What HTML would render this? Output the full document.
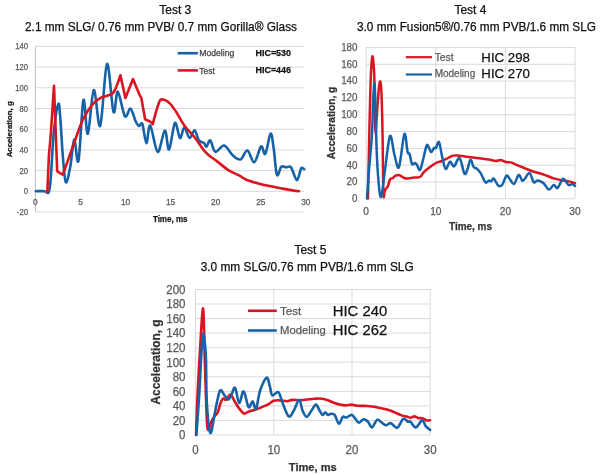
<!DOCTYPE html>
<html><head><meta charset="utf-8"><title>Tests 3-5</title>
<style>
html,body{margin:0;padding:0;background:#fff;}
body{width:600px;height:475px;overflow:hidden;}
svg{display:block;font-family:"Liberation Sans", sans-serif;filter:blur(0.35px);}
</style></head>
<body>
<svg width="600" height="475" viewBox="0 0 600 475">
<rect width="600" height="475" fill="#fff"/>
<text x="175.3" y="14.1" font-size="12" fill="#111" font-weight="normal" text-anchor="middle" stroke="#111" stroke-width="0.25" >Test 3</text>
<text x="161" y="31.0" font-size="12" fill="#111" font-weight="normal" text-anchor="middle" stroke="#111" stroke-width="0.25" textLength="272" lengthAdjust="spacingAndGlyphs">2.1 mm SLG/ 0.76 mm PVB/ 0.7 mm Gorilla® Glass</text>
<line x1="35.4" y1="212.0" x2="304.5" y2="212.0" stroke="#d9d9d9" stroke-width="1"/>
<text x="28" y="215.0" font-size="8.5" fill="#595959" font-weight="normal" text-anchor="end" stroke="#595959" stroke-width="0.25" textLength="11.20" lengthAdjust="spacingAndGlyphs">-20</text>
<line x1="35.4" y1="191.3" x2="304.5" y2="191.3" stroke="#d9d9d9" stroke-width="1"/>
<text x="28" y="194.3" font-size="8.5" fill="#595959" font-weight="normal" text-anchor="end" stroke="#595959" stroke-width="0.25" textLength="4.25" lengthAdjust="spacingAndGlyphs">0</text>
<line x1="35.4" y1="170.6" x2="304.5" y2="170.6" stroke="#d9d9d9" stroke-width="1"/>
<text x="28" y="173.6" font-size="8.5" fill="#595959" font-weight="normal" text-anchor="end" stroke="#595959" stroke-width="0.25" textLength="8.50" lengthAdjust="spacingAndGlyphs">20</text>
<line x1="35.4" y1="149.9" x2="304.5" y2="149.9" stroke="#d9d9d9" stroke-width="1"/>
<text x="28" y="152.9" font-size="8.5" fill="#595959" font-weight="normal" text-anchor="end" stroke="#595959" stroke-width="0.25" textLength="8.50" lengthAdjust="spacingAndGlyphs">40</text>
<line x1="35.4" y1="129.2" x2="304.5" y2="129.2" stroke="#d9d9d9" stroke-width="1"/>
<text x="28" y="132.2" font-size="8.5" fill="#595959" font-weight="normal" text-anchor="end" stroke="#595959" stroke-width="0.25" textLength="8.50" lengthAdjust="spacingAndGlyphs">60</text>
<line x1="35.4" y1="108.5" x2="304.5" y2="108.5" stroke="#d9d9d9" stroke-width="1"/>
<text x="28" y="111.5" font-size="8.5" fill="#595959" font-weight="normal" text-anchor="end" stroke="#595959" stroke-width="0.25" textLength="8.50" lengthAdjust="spacingAndGlyphs">80</text>
<line x1="35.4" y1="87.8" x2="304.5" y2="87.8" stroke="#d9d9d9" stroke-width="1"/>
<text x="28" y="90.8" font-size="8.5" fill="#595959" font-weight="normal" text-anchor="end" stroke="#595959" stroke-width="0.25" textLength="12.75" lengthAdjust="spacingAndGlyphs">100</text>
<line x1="35.4" y1="67.1" x2="304.5" y2="67.1" stroke="#d9d9d9" stroke-width="1"/>
<text x="28" y="70.1" font-size="8.5" fill="#595959" font-weight="normal" text-anchor="end" stroke="#595959" stroke-width="0.25" textLength="12.75" lengthAdjust="spacingAndGlyphs">120</text>
<line x1="35.4" y1="46.4" x2="304.5" y2="46.4" stroke="#d9d9d9" stroke-width="1"/>
<text x="28" y="49.4" font-size="8.5" fill="#595959" font-weight="normal" text-anchor="end" stroke="#595959" stroke-width="0.25" textLength="12.75" lengthAdjust="spacingAndGlyphs">140</text>
<line x1="35.4" y1="46.4" x2="35.4" y2="212" stroke="#bfbfbf" stroke-width="1"/>
<text x="35.4" y="205.3" font-size="8.3" fill="#595959" font-weight="normal" text-anchor="middle" stroke="#595959" stroke-width="0.25" >0</text>
<text x="80.5" y="205.3" font-size="8.3" fill="#595959" font-weight="normal" text-anchor="middle" stroke="#595959" stroke-width="0.25" >5</text>
<text x="125.5" y="205.3" font-size="8.3" fill="#595959" font-weight="normal" text-anchor="middle" stroke="#595959" stroke-width="0.25" >10</text>
<text x="170.6" y="205.3" font-size="8.3" fill="#595959" font-weight="normal" text-anchor="middle" stroke="#595959" stroke-width="0.25" >15</text>
<text x="215.7" y="205.3" font-size="8.3" fill="#595959" font-weight="normal" text-anchor="middle" stroke="#595959" stroke-width="0.25" >20</text>
<text x="260.8" y="205.3" font-size="8.3" fill="#595959" font-weight="normal" text-anchor="middle" stroke="#595959" stroke-width="0.25" >25</text>
<text x="305.8" y="205.3" font-size="8.3" fill="#595959" font-weight="normal" text-anchor="middle" stroke="#595959" stroke-width="0.25" >30</text>
<text x="170.2" y="222.2" font-size="8.5" fill="#1a1a1a" font-weight="bold" text-anchor="middle" stroke="#1a1a1a" stroke-width="0.25" textLength="34.6" lengthAdjust="spacingAndGlyphs">Time, ms</text>
<text x="0" y="0" font-size="8" fill="#1a1a1a" font-weight="bold" text-anchor="middle" stroke="#1a1a1a" stroke-width="0.25" transform="translate(12.4,129.3) rotate(-90)" textLength="56" lengthAdjust="spacingAndGlyphs">Acceleration, g</text>
<line x1="177.7" y1="53.2" x2="197.9" y2="53.2" stroke="#1562a8" stroke-width="2.6"/>
<line x1="177.7" y1="70.4" x2="197.9" y2="70.4" stroke="#dc1420" stroke-width="2.6"/>
<text x="199.3" y="56.3" font-size="8.7" fill="#404040" font-weight="normal" text-anchor="start" stroke="#404040" stroke-width="0.25" textLength="35" lengthAdjust="spacingAndGlyphs">Modeling</text>
<text x="199.3" y="73.6" font-size="8.7" fill="#404040" font-weight="normal" text-anchor="start" stroke="#404040" stroke-width="0.25" textLength="15.5" lengthAdjust="spacingAndGlyphs">Test</text>
<text x="255.6" y="56.2" font-size="9.4" fill="#111" font-weight="bold" text-anchor="start" stroke="#111" stroke-width="0.25" textLength="35.3" lengthAdjust="spacingAndGlyphs">HIC=530</text>
<text x="255.6" y="72.7" font-size="9.4" fill="#111" font-weight="bold" text-anchor="start" stroke="#111" stroke-width="0.25" textLength="35.3" lengthAdjust="spacingAndGlyphs">HIC=446</text>
<path d="M35.8,191.2 C37.2,191.2 42.6,191.0 44.4,191.2 C46.2,191.4 45.8,192.2 46.5,192.4 C47.2,192.6 48.1,193.8 48.7,192.2 C49.3,190.6 49.9,186.7 50.3,183.0 C50.7,179.3 50.7,178.8 51.3,170.0 C51.9,161.2 52.8,141.5 54.0,130.5 C55.2,119.5 57.2,106.1 58.3,104.0 C59.3,101.9 59.5,109.3 60.3,117.9 C61.0,126.5 61.9,145.1 62.8,155.8 C63.7,166.5 64.5,180.6 65.8,182.3 C67.1,184.0 69.0,173.1 70.4,165.9 C71.8,158.8 72.9,140.2 74.2,139.4 C75.5,138.6 77.0,167.4 78.5,160.8 C80.0,154.2 81.9,104.6 83.4,100.1 C85.0,95.6 86.1,135.5 87.8,133.8 C89.5,132.2 91.7,91.5 93.8,90.2 C95.9,88.9 98.0,130.2 100.2,125.8 C102.4,121.4 104.8,66.2 107.0,63.9 C109.2,61.6 111.7,107.3 113.5,111.9 C115.3,116.5 115.9,91.0 117.8,91.7 C119.7,92.4 122.8,113.4 124.9,116.2 C127.0,119.0 128.7,107.8 130.5,108.6 C132.3,109.4 134.1,118.1 135.5,121.0 C136.9,123.9 137.8,125.5 139.0,126.0 C140.2,126.5 141.2,121.1 142.4,124.0 C143.6,126.9 145.1,142.9 146.4,143.2 C147.7,143.4 148.3,124.0 150.2,125.5 C152.1,127.0 155.3,151.2 157.7,152.0 C160.1,152.8 162.9,130.9 164.8,130.5 C166.7,130.1 167.4,150.8 169.1,149.5 C170.8,148.2 173.1,124.9 174.9,123.0 C176.7,121.1 178.4,137.3 180.0,138.1 C181.6,138.8 182.7,127.5 184.3,127.5 C185.9,127.5 187.9,137.5 189.6,138.0 C191.3,138.5 193.0,129.9 194.6,130.3 C196.2,130.7 197.3,138.3 198.9,140.4 C200.5,142.5 202.7,141.9 204.0,143.0 C205.3,144.1 205.4,147.1 206.5,146.7 C207.6,146.3 208.8,139.6 210.3,140.4 C211.8,141.2 213.0,151.0 215.3,151.8 C217.6,152.7 221.2,144.9 224.2,145.5 C227.1,146.1 230.3,153.3 233.0,155.6 C235.7,157.9 238.2,160.2 240.6,159.4 C243.0,158.6 245.1,150.1 247.4,150.6 C249.7,151.1 252.0,162.9 254.3,162.2 C256.6,161.5 259.3,147.8 261.1,146.4 C262.9,145.0 263.7,155.9 265.3,153.8 C266.9,151.7 269.2,134.6 270.6,133.7 C272.0,132.8 272.6,141.7 273.7,148.5 C274.8,155.3 275.6,171.8 276.9,174.8 C278.2,177.9 279.8,168.1 281.3,166.8 C282.8,165.6 284.4,167.2 286.0,167.3 C287.6,167.4 289.2,165.2 291.0,167.3 C292.8,169.4 295.2,179.9 296.9,180.1 C298.6,180.3 299.9,170.3 301.1,168.5 C302.3,166.7 303.8,169.1 304.3,169.2" fill="none" stroke="#1562a8" stroke-width="2.6" stroke-linejoin="round" stroke-linecap="round"/>
<path d="M47.3,192.0 C47.3,192.0 48.9,155.8 48.9,155.8 C48.9,155.8 50.7,135.6 50.7,135.6 C50.7,135.6 54.0,85.7 54.0,85.7 C54.0,85.7 57.2,171.0 57.2,171.0 C57.2,171.0 58.1,171.9 59.0,172.5 C59.9,173.1 62.8,174.7 62.8,174.7 C62.8,174.7 65.7,166.7 67.8,160.8 C69.9,154.9 72.9,146.3 75.4,139.4 C77.9,132.5 80.1,125.1 83.0,119.2 C85.9,113.3 89.7,107.8 92.6,104.3 C95.5,100.8 97.7,99.5 100.2,98.0 C102.7,96.5 105.4,96.5 107.7,95.5 C110.0,94.5 111.9,95.1 114.0,91.7 C116.1,88.3 120.4,75.3 120.4,75.3 C120.4,75.3 125.4,98.0 125.4,98.0 C125.4,98.0 133.0,79.0 133.0,79.0 C133.0,79.0 137.9,91.1 139.3,94.2 C140.7,97.3 141.3,97.7 141.3,97.7 C141.3,97.7 145.1,119.2 145.1,119.2 C145.1,119.2 148.9,120.9 150.2,121.7 C151.5,122.5 152.7,124.2 152.7,124.2 C152.7,124.2 155.2,114.3 156.5,110.3 C157.8,106.3 158.8,101.9 160.3,100.2 C161.8,98.5 163.6,99.6 165.3,100.2 C167.0,100.8 168.5,101.9 170.4,104.0 C172.3,106.1 174.4,109.2 176.7,112.8 C179.0,116.4 181.2,121.3 184.3,125.5 C187.4,129.7 191.6,133.6 195.1,138.0 C198.6,142.4 201.4,147.8 205.2,151.8 C209.0,155.8 213.8,158.8 217.8,161.9 C221.8,165.1 225.5,168.4 229.2,170.7 C232.9,173.0 237.2,174.4 240.0,175.9 C242.8,177.4 242.8,178.3 246.3,179.7 C249.8,181.1 255.1,182.8 261.1,184.3 C267.1,185.8 275.9,187.4 282.2,188.6 C288.5,189.8 296.2,190.9 299.0,191.3" fill="none" stroke="#dc1420" stroke-width="2.6" stroke-linejoin="round" stroke-linecap="round"/>
<text x="470.4" y="14.2" font-size="12" fill="#111" font-weight="normal" text-anchor="middle" stroke="#111" stroke-width="0.25" >Test 4</text>
<text x="476.5" y="31.2" font-size="12" fill="#111" font-weight="normal" text-anchor="middle" stroke="#111" stroke-width="0.25" textLength="239" lengthAdjust="spacingAndGlyphs">3.0 mm Fusion5®/0.76 mm PVB/1.6 mm SLG</text>
<line x1="366.2" y1="198.8" x2="575" y2="198.8" stroke="#d9d9d9" stroke-width="1"/>
<text x="357.5" y="202.1" font-size="10.6" fill="#595959" font-weight="normal" text-anchor="end" stroke="#595959" stroke-width="0.25" textLength="5.45" lengthAdjust="spacingAndGlyphs">0</text>
<line x1="366.2" y1="182.0" x2="575" y2="182.0" stroke="#d9d9d9" stroke-width="1"/>
<text x="357.5" y="185.3" font-size="10.6" fill="#595959" font-weight="normal" text-anchor="end" stroke="#595959" stroke-width="0.25" textLength="10.90" lengthAdjust="spacingAndGlyphs">20</text>
<line x1="366.2" y1="165.2" x2="575" y2="165.2" stroke="#d9d9d9" stroke-width="1"/>
<text x="357.5" y="168.5" font-size="10.6" fill="#595959" font-weight="normal" text-anchor="end" stroke="#595959" stroke-width="0.25" textLength="10.90" lengthAdjust="spacingAndGlyphs">40</text>
<line x1="366.2" y1="148.4" x2="575" y2="148.4" stroke="#d9d9d9" stroke-width="1"/>
<text x="357.5" y="151.7" font-size="10.6" fill="#595959" font-weight="normal" text-anchor="end" stroke="#595959" stroke-width="0.25" textLength="10.90" lengthAdjust="spacingAndGlyphs">60</text>
<line x1="366.2" y1="131.6" x2="575" y2="131.6" stroke="#d9d9d9" stroke-width="1"/>
<text x="357.5" y="134.9" font-size="10.6" fill="#595959" font-weight="normal" text-anchor="end" stroke="#595959" stroke-width="0.25" textLength="10.90" lengthAdjust="spacingAndGlyphs">80</text>
<line x1="366.2" y1="114.8" x2="575" y2="114.8" stroke="#d9d9d9" stroke-width="1"/>
<text x="357.5" y="118.1" font-size="10.6" fill="#595959" font-weight="normal" text-anchor="end" stroke="#595959" stroke-width="0.25" textLength="16.35" lengthAdjust="spacingAndGlyphs">100</text>
<line x1="366.2" y1="97.9" x2="575" y2="97.9" stroke="#d9d9d9" stroke-width="1"/>
<text x="357.5" y="101.2" font-size="10.6" fill="#595959" font-weight="normal" text-anchor="end" stroke="#595959" stroke-width="0.25" textLength="16.35" lengthAdjust="spacingAndGlyphs">120</text>
<line x1="366.2" y1="81.1" x2="575" y2="81.1" stroke="#d9d9d9" stroke-width="1"/>
<text x="357.5" y="84.4" font-size="10.6" fill="#595959" font-weight="normal" text-anchor="end" stroke="#595959" stroke-width="0.25" textLength="16.35" lengthAdjust="spacingAndGlyphs">140</text>
<line x1="366.2" y1="64.3" x2="575" y2="64.3" stroke="#d9d9d9" stroke-width="1"/>
<text x="357.5" y="67.6" font-size="10.6" fill="#595959" font-weight="normal" text-anchor="end" stroke="#595959" stroke-width="0.25" textLength="16.35" lengthAdjust="spacingAndGlyphs">160</text>
<line x1="366.2" y1="47.5" x2="575" y2="47.5" stroke="#d9d9d9" stroke-width="1"/>
<text x="357.5" y="50.8" font-size="10.6" fill="#595959" font-weight="normal" text-anchor="end" stroke="#595959" stroke-width="0.25" textLength="16.35" lengthAdjust="spacingAndGlyphs">180</text>
<line x1="366.2" y1="47.5" x2="366.2" y2="198.8" stroke="#d9d9d9" stroke-width="1"/>
<text x="366.2" y="215" font-size="10.2" fill="#595959" font-weight="normal" text-anchor="middle" stroke="#595959" stroke-width="0.25" >0</text>
<line x1="435.8" y1="47.5" x2="435.8" y2="198.8" stroke="#d9d9d9" stroke-width="1"/>
<text x="435.8" y="215" font-size="10.2" fill="#595959" font-weight="normal" text-anchor="middle" stroke="#595959" stroke-width="0.25" >10</text>
<line x1="505.4" y1="47.5" x2="505.4" y2="198.8" stroke="#d9d9d9" stroke-width="1"/>
<text x="505.4" y="215" font-size="10.2" fill="#595959" font-weight="normal" text-anchor="middle" stroke="#595959" stroke-width="0.25" >20</text>
<line x1="575.0" y1="47.5" x2="575.0" y2="198.8" stroke="#d9d9d9" stroke-width="1"/>
<text x="575.0" y="215" font-size="10.2" fill="#595959" font-weight="normal" text-anchor="middle" stroke="#595959" stroke-width="0.25" >30</text>
<text x="470.5" y="230.4" font-size="10" fill="#333" font-weight="bold" text-anchor="middle" stroke="#333" stroke-width="0.25" textLength="43" lengthAdjust="spacingAndGlyphs">Time, ms</text>
<text x="0" y="0" font-size="10.1" fill="#333" font-weight="bold" text-anchor="middle" stroke="#333" stroke-width="0.25" transform="translate(334.8,123) rotate(-90)" textLength="72.5" lengthAdjust="spacingAndGlyphs">Acceleration, g</text>
<line x1="405.8" y1="57.2" x2="432" y2="57.2" stroke="#dc1420" stroke-width="2.2"/>
<line x1="405.8" y1="74.5" x2="432" y2="74.5" stroke="#1562a8" stroke-width="2.2"/>
<text x="434.7" y="60.9" font-size="10.4" fill="#595959" font-weight="normal" text-anchor="start" stroke="#595959" stroke-width="0.25" textLength="19" lengthAdjust="spacingAndGlyphs">Test</text>
<text x="434.7" y="76.9" font-size="10.2" fill="#595959" font-weight="normal" text-anchor="start" stroke="#595959" stroke-width="0.25" textLength="40.5" lengthAdjust="spacingAndGlyphs">Modeling</text>
<text x="481.3" y="61.8" font-size="13" fill="#111" font-weight="normal" text-anchor="start" stroke="#111" stroke-width="0.25" textLength="48.7" lengthAdjust="spacingAndGlyphs">HIC 298</text>
<text x="481.3" y="78.3" font-size="13" fill="#111" font-weight="normal" text-anchor="start" stroke="#111" stroke-width="0.25" textLength="48.7" lengthAdjust="spacingAndGlyphs">HIC 270</text>
<path d="M368.0,198.5 C368.2,188.2 368.9,152.6 369.2,137.0 C369.5,121.4 369.7,115.7 370.0,105.0 C370.3,94.3 370.6,81.1 371.0,73.0 C371.4,64.9 372.0,57.8 372.4,56.4 C372.8,55.0 373.3,61.2 373.6,64.5 C373.9,67.8 374.1,69.7 374.3,76.4 C374.5,83.1 374.7,95.4 374.9,104.8 C375.1,114.2 375.1,132.8 375.5,133.0 C375.9,133.2 376.9,113.7 377.5,106.0 C378.1,98.3 378.5,91.0 379.0,87.0 C379.5,83.0 380.0,80.5 380.4,81.7 C380.8,82.9 381.1,84.8 381.5,94.0 C381.9,103.2 382.3,120.3 382.6,137.0 C382.9,153.7 383.0,185.2 383.4,194.0 C383.8,202.8 384.2,191.3 385.0,190.0 C385.8,188.7 387.2,187.8 388.0,186.0 C388.8,184.2 389.2,180.8 390.0,179.5 C390.8,178.2 392.2,178.6 393.0,178.0 C393.8,177.4 394.0,176.5 395.0,176.0 C396.0,175.5 397.5,174.7 399.0,175.0 C400.5,175.3 402.5,177.4 404.0,178.0 C405.5,178.6 406.3,178.5 408.0,178.4 C409.7,178.3 412.0,177.8 414.0,177.6 C416.0,177.4 418.3,177.9 420.0,177.0 C421.7,176.1 422.3,173.7 424.0,172.0 C425.7,170.3 428.0,168.5 430.0,167.0 C432.0,165.5 434.0,164.0 436.0,163.0 C438.0,162.0 440.0,161.8 442.0,161.0 C444.0,160.2 446.2,158.9 448.0,158.0 C449.8,157.1 451.3,156.0 453.0,155.6 C454.7,155.2 456.0,155.4 458.0,155.6 C460.0,155.8 462.5,156.2 465.0,156.5 C467.5,156.8 470.3,157.3 472.9,157.6 C475.5,157.9 478.2,158.1 480.8,158.4 C483.4,158.7 486.2,159.1 488.7,159.5 C491.2,159.9 493.8,161.0 495.8,161.1 C497.8,161.2 498.8,159.8 500.5,160.0 C502.2,160.2 504.3,161.6 506.0,162.0 C507.7,162.4 508.9,161.9 510.8,162.4 C512.6,162.9 514.7,164.1 517.1,165.1 C519.5,166.1 522.3,167.2 525.0,168.3 C527.7,169.4 530.2,170.5 533.2,171.5 C536.2,172.5 539.4,173.0 542.8,174.2 C546.2,175.3 550.8,177.4 553.8,178.4 C556.8,179.4 558.3,179.6 560.6,180.0 C562.9,180.4 565.1,180.6 567.5,181.1 C569.9,181.6 573.8,182.8 575.0,183.2" fill="none" stroke="#dc1420" stroke-width="2.5" stroke-linejoin="round" stroke-linecap="round"/>
<path d="M367.0,198.5 C367.3,193.8 368.2,180.2 369.0,170.0 C369.8,159.8 371.1,147.8 371.8,137.0 C372.5,126.2 372.6,114.0 373.0,105.0 C373.4,96.0 373.9,83.8 374.3,83.0 C374.7,82.2 375.0,91.0 375.3,100.0 C375.6,109.0 375.8,124.5 376.2,137.0 C376.6,149.5 377.2,165.0 378.0,175.0 C378.8,185.0 379.8,197.8 381.0,197.0 C382.2,196.2 383.5,180.2 385.0,170.0 C386.5,159.8 388.4,138.5 390.0,136.0 C391.6,133.5 393.0,149.8 394.5,155.0 C396.0,160.2 397.4,170.5 399.0,167.0 C400.6,163.5 403.0,136.5 404.4,134.0 C405.8,131.5 406.7,148.7 407.6,152.0 C408.5,155.3 408.9,152.0 409.6,154.0 C410.3,156.0 411.1,162.5 412.0,164.0 C412.9,165.5 414.2,162.8 415.0,163.0 C415.8,163.2 416.2,163.8 417.0,165.0 C417.8,166.2 419.0,170.8 420.0,170.0 C421.0,169.2 421.8,164.2 423.0,160.0 C424.2,155.8 425.7,146.3 427.0,145.0 C428.3,143.7 429.8,151.5 431.0,152.0 C432.2,152.5 433.2,148.7 434.0,148.0 C434.8,147.3 435.2,149.0 436.0,148.0 C436.8,147.0 438.0,140.7 439.0,142.0 C440.0,143.3 440.9,151.5 442.0,156.0 C443.1,160.5 444.3,168.1 445.6,169.0 C446.9,169.9 448.6,162.0 450.0,161.6 C451.4,161.2 452.4,167.0 454.0,166.4 C455.6,165.8 457.9,156.8 459.6,158.0 C461.3,159.2 463.1,171.7 464.4,173.6 C465.7,175.5 466.4,171.8 467.4,169.5 C468.4,167.2 469.4,160.1 470.5,159.7 C471.6,159.3 472.6,165.6 473.7,167.1 C474.8,168.6 475.6,167.6 476.8,168.7 C478.0,169.8 479.4,171.1 480.8,173.4 C482.2,175.7 484.2,181.2 485.5,182.4 C486.8,183.6 487.8,180.8 488.7,180.6 C489.6,180.4 490.2,181.6 491.1,181.3 C492.0,181.0 492.6,178.0 493.8,178.7 C495.0,179.4 496.8,184.5 498.2,185.6 C499.6,186.7 500.7,186.6 502.1,185.0 C503.5,183.4 505.1,176.8 506.4,175.8 C507.7,174.9 508.7,177.9 510.0,179.3 C511.3,180.7 512.5,184.7 514.0,184.0 C515.5,183.3 517.3,175.6 518.7,175.0 C520.1,174.4 521.2,180.0 522.2,180.6 C523.2,181.2 523.8,179.8 525.0,178.5 C526.2,177.2 528.1,172.5 529.6,173.1 C531.1,173.7 532.5,181.1 533.8,182.3 C535.1,183.5 536.0,180.5 537.3,180.4 C538.6,180.3 540.2,181.2 541.4,181.8 C542.5,182.4 542.9,182.5 544.2,183.8 C545.5,185.1 547.4,189.4 549.0,189.6 C550.6,189.8 552.4,185.2 553.8,184.9 C555.2,184.6 556.1,189.0 557.6,188.0 C559.1,187.0 561.3,180.0 562.7,179.0 C564.1,178.0 565.1,180.8 566.1,181.8 C567.1,182.8 567.8,184.8 568.8,185.2 C569.8,185.6 571.3,184.0 572.3,184.1 C573.3,184.2 574.5,185.6 575.0,185.9" fill="none" stroke="#1562a8" stroke-width="2.5" stroke-linejoin="round" stroke-linecap="round"/>
<text x="310.4" y="253.6" font-size="12" fill="#111" font-weight="normal" text-anchor="middle" stroke="#111" stroke-width="0.25" >Test 5</text>
<text x="307.2" y="270.5" font-size="12" fill="#111" font-weight="normal" text-anchor="middle" stroke="#111" stroke-width="0.25" textLength="213" lengthAdjust="spacingAndGlyphs">3.0 mm SLG/0.76 mm PVB/1.6 mm SLG</text>
<line x1="195.5" y1="435.0" x2="430.3" y2="435.0" stroke="#d9d9d9" stroke-width="1"/>
<text x="185.5" y="439.3" font-size="12.2" fill="#595959" font-weight="normal" text-anchor="end" stroke="#595959" stroke-width="0.25" textLength="6.4" lengthAdjust="spacingAndGlyphs">0</text>
<line x1="195.5" y1="420.4" x2="430.3" y2="420.4" stroke="#d9d9d9" stroke-width="1"/>
<text x="185.5" y="424.8" font-size="12.2" fill="#595959" font-weight="normal" text-anchor="end" stroke="#595959" stroke-width="0.25" textLength="12.8" lengthAdjust="spacingAndGlyphs">20</text>
<line x1="195.5" y1="405.9" x2="430.3" y2="405.9" stroke="#d9d9d9" stroke-width="1"/>
<text x="185.5" y="410.2" font-size="12.2" fill="#595959" font-weight="normal" text-anchor="end" stroke="#595959" stroke-width="0.25" textLength="12.8" lengthAdjust="spacingAndGlyphs">40</text>
<line x1="195.5" y1="391.4" x2="430.3" y2="391.4" stroke="#d9d9d9" stroke-width="1"/>
<text x="185.5" y="395.7" font-size="12.2" fill="#595959" font-weight="normal" text-anchor="end" stroke="#595959" stroke-width="0.25" textLength="12.8" lengthAdjust="spacingAndGlyphs">60</text>
<line x1="195.5" y1="376.8" x2="430.3" y2="376.8" stroke="#d9d9d9" stroke-width="1"/>
<text x="185.5" y="381.1" font-size="12.2" fill="#595959" font-weight="normal" text-anchor="end" stroke="#595959" stroke-width="0.25" textLength="12.8" lengthAdjust="spacingAndGlyphs">80</text>
<line x1="195.5" y1="362.2" x2="430.3" y2="362.2" stroke="#d9d9d9" stroke-width="1"/>
<text x="185.5" y="366.6" font-size="12.2" fill="#595959" font-weight="normal" text-anchor="end" stroke="#595959" stroke-width="0.25" textLength="19.2" lengthAdjust="spacingAndGlyphs">100</text>
<line x1="195.5" y1="347.7" x2="430.3" y2="347.7" stroke="#d9d9d9" stroke-width="1"/>
<text x="185.5" y="352.0" font-size="12.2" fill="#595959" font-weight="normal" text-anchor="end" stroke="#595959" stroke-width="0.25" textLength="19.2" lengthAdjust="spacingAndGlyphs">120</text>
<line x1="195.5" y1="333.1" x2="430.3" y2="333.1" stroke="#d9d9d9" stroke-width="1"/>
<text x="185.5" y="337.4" font-size="12.2" fill="#595959" font-weight="normal" text-anchor="end" stroke="#595959" stroke-width="0.25" textLength="19.2" lengthAdjust="spacingAndGlyphs">140</text>
<line x1="195.5" y1="318.6" x2="430.3" y2="318.6" stroke="#d9d9d9" stroke-width="1"/>
<text x="185.5" y="322.9" font-size="12.2" fill="#595959" font-weight="normal" text-anchor="end" stroke="#595959" stroke-width="0.25" textLength="19.2" lengthAdjust="spacingAndGlyphs">160</text>
<line x1="195.5" y1="304.0" x2="430.3" y2="304.0" stroke="#d9d9d9" stroke-width="1"/>
<text x="185.5" y="308.3" font-size="12.2" fill="#595959" font-weight="normal" text-anchor="end" stroke="#595959" stroke-width="0.25" textLength="19.2" lengthAdjust="spacingAndGlyphs">180</text>
<line x1="195.5" y1="289.5" x2="430.3" y2="289.5" stroke="#d9d9d9" stroke-width="1"/>
<text x="185.5" y="293.8" font-size="12.2" fill="#595959" font-weight="normal" text-anchor="end" stroke="#595959" stroke-width="0.25" textLength="19.2" lengthAdjust="spacingAndGlyphs">200</text>
<line x1="195.5" y1="289.5" x2="195.5" y2="435" stroke="#d9d9d9" stroke-width="1"/>
<text x="195.5" y="453.5" font-size="12.2" fill="#595959" font-weight="normal" text-anchor="middle" stroke="#595959" stroke-width="0.25" textLength="6.4" lengthAdjust="spacingAndGlyphs">0</text>
<line x1="273.8" y1="289.5" x2="273.8" y2="435" stroke="#d9d9d9" stroke-width="1"/>
<text x="273.8" y="453.5" font-size="12.2" fill="#595959" font-weight="normal" text-anchor="middle" stroke="#595959" stroke-width="0.25" textLength="12.8" lengthAdjust="spacingAndGlyphs">10</text>
<line x1="352.0" y1="289.5" x2="352.0" y2="435" stroke="#d9d9d9" stroke-width="1"/>
<text x="352.0" y="453.5" font-size="12.2" fill="#595959" font-weight="normal" text-anchor="middle" stroke="#595959" stroke-width="0.25" textLength="12.8" lengthAdjust="spacingAndGlyphs">20</text>
<line x1="430.2" y1="289.5" x2="430.2" y2="435" stroke="#d9d9d9" stroke-width="1"/>
<text x="430.2" y="453.5" font-size="12.2" fill="#595959" font-weight="normal" text-anchor="middle" stroke="#595959" stroke-width="0.25" textLength="12.8" lengthAdjust="spacingAndGlyphs">30</text>
<text x="312.8" y="470.9" font-size="11.4" fill="#333" font-weight="bold" text-anchor="middle" stroke="#333" stroke-width="0.25" textLength="48" lengthAdjust="spacingAndGlyphs">Time, ms</text>
<text x="0" y="0" font-size="11.85" fill="#333" font-weight="bold" text-anchor="middle" stroke="#333" stroke-width="0.25" transform="translate(160.2,362) rotate(-90)" textLength="85" lengthAdjust="spacingAndGlyphs">Acceleration, g</text>
<line x1="248" y1="310.8" x2="276.8" y2="310.8" stroke="#dc1420" stroke-width="2.6"/>
<line x1="248" y1="330.5" x2="276.8" y2="330.5" stroke="#1562a8" stroke-width="2.6"/>
<text x="280" y="314.5" font-size="11.6" fill="#595959" font-weight="normal" text-anchor="start" stroke="#595959" stroke-width="0.25" textLength="21.3" lengthAdjust="spacingAndGlyphs">Test</text>
<text x="280" y="333.8" font-size="11.3" fill="#595959" font-weight="normal" text-anchor="start" stroke="#595959" stroke-width="0.25" textLength="45.9" lengthAdjust="spacingAndGlyphs">Modeling</text>
<text x="332.8" y="316.1" font-size="14.8" fill="#111" font-weight="normal" text-anchor="start" stroke="#111" stroke-width="0.25" textLength="54.4" lengthAdjust="spacingAndGlyphs">HIC 240</text>
<text x="332.8" y="334.8" font-size="14.8" fill="#111" font-weight="normal" text-anchor="start" stroke="#111" stroke-width="0.25" textLength="54.4" lengthAdjust="spacingAndGlyphs">HIC 262</text>
<path d="M196.0,435.0 C196.3,428.1 196.9,407.9 197.6,393.7 C198.3,379.5 199.1,364.2 200.0,350.0 C200.9,335.8 202.3,306.8 203.1,308.5 C203.9,310.2 204.2,341.6 204.8,360.0 C205.4,378.4 206.2,407.4 206.8,419.0 C207.4,430.6 207.5,429.3 208.2,429.9 C208.9,430.4 210.0,424.6 211.0,422.3 C212.0,420.1 213.3,418.1 214.4,416.4 C215.5,414.7 216.8,414.3 217.8,412.2 C218.8,410.1 219.5,406.1 220.3,403.8 C221.1,401.6 221.8,399.4 222.8,398.7 C223.8,398.0 224.9,400.3 226.2,399.6 C227.5,398.9 229.0,394.2 230.4,394.5 C231.8,394.8 233.2,398.9 234.6,401.2 C236.0,403.4 237.2,405.9 238.8,408.0 C240.4,410.1 242.2,412.9 243.9,413.5 C245.6,414.1 247.0,412.0 248.9,411.4 C250.8,410.8 253.0,410.4 255.2,409.7 C257.4,409.0 259.7,408.0 261.9,407.1 C264.1,406.2 266.6,405.2 268.6,404.1 C270.6,403.0 271.7,401.3 273.7,400.7 C275.7,400.1 278.2,400.3 280.4,400.4 C282.6,400.5 285.1,401.3 287.1,401.2 C289.1,401.1 290.1,400.1 292.2,399.9 C294.3,399.7 297.5,400.3 300.0,400.2 C302.5,400.1 304.9,399.8 307.4,399.5 C309.8,399.2 312.2,398.8 314.7,398.7 C317.1,398.6 319.9,398.4 322.1,398.7 C324.3,398.9 326.0,399.5 328.0,400.2 C330.0,400.9 331.9,402.0 333.9,402.7 C335.9,403.4 337.8,404.2 339.8,404.6 C341.8,405.1 343.7,405.4 345.7,405.4 C347.7,405.4 349.6,404.6 351.6,404.6 C353.6,404.7 355.3,405.5 357.5,405.7 C359.7,405.9 362.9,405.8 365.0,405.9 C367.1,406.0 368.0,405.9 370.1,406.2 C372.2,406.5 374.7,406.9 377.6,407.5 C380.5,408.1 384.8,408.8 387.7,409.7 C390.6,410.6 393.0,411.7 395.3,412.6 C397.6,413.6 399.7,414.7 401.6,415.4 C403.5,416.1 405.2,416.2 406.7,416.6 C408.2,417.0 409.2,417.7 410.5,417.7 C411.8,417.7 413.0,416.4 414.3,416.4 C415.6,416.4 416.6,417.5 418.1,417.9 C419.6,418.2 421.6,418.1 423.1,418.5 C424.6,418.9 425.7,420.1 426.9,420.4 C428.1,420.7 429.6,420.2 430.1,420.2" fill="none" stroke="#dc1420" stroke-width="2.6" stroke-linejoin="round" stroke-linecap="round"/>
<path d="M196.4,435.0 C196.9,428.1 198.5,406.2 199.3,393.7 C200.1,381.2 200.4,369.9 201.0,360.0 C201.6,350.1 202.4,336.5 203.1,334.0 C203.8,331.5 204.5,340.7 205.0,345.0 C205.5,349.3 205.7,350.5 206.0,360.0 C206.3,369.5 206.1,389.9 206.8,402.0 C207.5,414.1 208.9,430.5 210.2,432.8 C211.5,435.1 213.3,420.7 214.4,415.6 C215.5,410.5 216.0,406.2 217.0,402.0 C218.0,397.8 219.1,391.4 220.3,390.3 C221.6,389.2 223.2,393.8 224.5,395.4 C225.8,396.9 226.8,399.6 227.9,399.6 C229.0,399.6 230.0,397.4 231.2,395.4 C232.4,393.4 233.8,386.5 235.1,387.8 C236.4,389.1 237.8,402.4 239.2,403.0 C240.6,403.6 242.0,390.7 243.6,391.4 C245.2,392.1 247.1,405.5 248.6,407.1 C250.1,408.7 251.4,400.9 252.6,401.2 C253.8,401.5 254.7,410.6 256.0,408.8 C257.3,407.0 258.4,395.5 260.2,390.3 C262.0,385.1 265.0,378.3 266.6,377.7 C268.2,377.1 269.1,383.9 270.0,386.9 C270.9,389.8 270.9,394.5 272.3,395.4 C273.7,396.3 276.6,390.9 278.4,392.3 C280.2,393.7 281.2,399.8 282.9,403.8 C284.6,407.8 287.0,415.3 288.8,416.4 C290.6,417.5 292.2,413.3 293.9,410.5 C295.6,407.7 297.8,399.9 299.2,399.8 C300.6,399.7 301.1,407.1 302.3,410.0 C303.5,412.9 305.2,416.7 306.6,416.9 C308.1,417.1 309.4,413.4 311.0,411.3 C312.6,409.2 314.5,404.9 315.9,404.6 C317.3,404.4 318.1,408.1 319.2,409.8 C320.3,411.5 321.4,414.5 322.4,414.9 C323.4,415.3 324.4,412.4 325.3,412.4 C326.2,412.4 327.1,414.6 328.0,414.9 C328.9,415.1 329.8,413.9 330.9,413.9 C332.0,413.9 333.2,413.2 334.6,414.9 C336.0,416.5 337.6,423.5 339.0,423.8 C340.4,424.1 341.5,417.9 342.7,416.9 C343.9,415.8 344.9,417.8 346.4,417.5 C347.9,417.2 350.1,414.7 351.6,414.9 C353.1,415.1 354.1,417.3 355.3,418.6 C356.5,419.9 357.5,422.7 358.9,422.8 C360.2,422.9 361.9,419.6 363.4,419.4 C364.9,419.2 366.4,420.2 367.8,421.5 C369.2,422.8 370.5,427.7 372.0,427.4 C373.5,427.1 375.4,420.6 377.0,419.8 C378.6,419.0 379.9,421.4 381.4,422.3 C382.9,423.2 384.2,425.1 385.8,425.2 C387.4,425.3 389.0,422.8 390.9,423.2 C392.8,423.6 395.1,428.5 397.2,427.8 C399.2,427.1 401.4,419.9 403.2,418.9 C405.0,417.9 406.8,421.2 408.0,421.7 C409.2,422.2 409.2,420.8 410.5,421.7 C411.8,422.6 413.9,427.6 415.8,427.4 C417.7,427.2 420.5,420.6 422.1,420.4 C423.8,420.2 424.4,424.5 425.7,426.1 C427.0,427.7 429.4,429.3 430.1,429.9" fill="none" stroke="#1562a8" stroke-width="2.6" stroke-linejoin="round" stroke-linecap="round"/>
</svg>
</body></html>
